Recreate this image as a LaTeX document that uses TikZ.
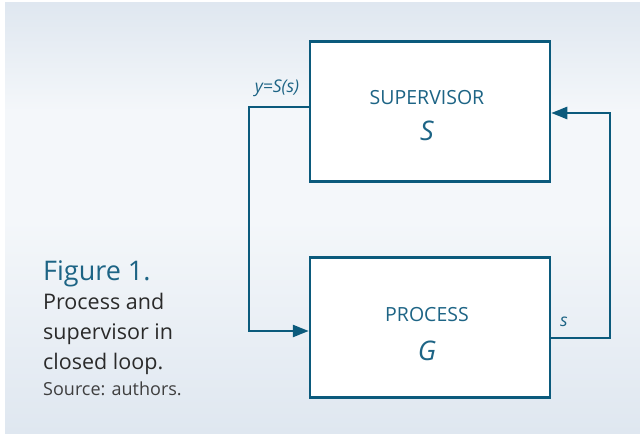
\documentclass[tikz,border=0pt]{standalone}
\usepackage{fontspec}
\setmainfont{Open Sans}
\usetikzlibrary{arrows.meta}
\definecolor{loopteal}{HTML}{0B5A7C}
\definecolor{labelteal}{HTML}{1D6485}
\definecolor{panelA}{HTML}{DFE7F0}
\definecolor{panelB}{HTML}{F4F7FA}
\definecolor{captext}{HTML}{2A2A2A}
\begin{document}
\begin{tikzpicture}[x=1pt,y=-1pt,
  block/.style={draw=loopteal,line width=2.5pt,fill=white,minimum width=240pt,minimum height=140pt,inner sep=0pt},
  wire/.style={draw=loopteal,line width=2.5pt},
  tip/.style={-{Triangle[length=16pt,width=12pt]}},
  boxtitle/.style={text=labelteal,font=\fontsize{19.5}{22}\selectfont},
  boxsym/.style={text=labelteal,font=\fontsize{27}{30}\selectfont\itshape},
  siglabel/.style={text=labelteal,font=\fontsize{17.5}{20}\selectfont\itshape},
  capline/.style={anchor=base west,inner sep=0pt,text=captext,font=\fontsize{21.5}{24}\selectfont}]
\useasboundingbox (0,0) rectangle (640,438);
% background panel with vertical shading
\shade[top color=panelA,bottom color=panelB,middle color=panelB] (5,3) rectangle (640,220);
\shade[top color=panelB,bottom color=panelA] (5,220) rectangle (640,433);
% blocks
\node[block] (sup) at (430,111.5) {};
\node[block] (proc) at (430,327.5) {};
\node[boxtitle] (suptitle) at (427,98) {SUPERVISOR};
\node[boxsym] (supsym) at (427,131) {S};
\node[boxtitle] (proctitle) at (427,315) {PROCESS};
\node[boxsym] (procsym) at (427,351) {G};
% loop connectors
\coordinate (lt) at (249,107);
\coordinate (lb) at (249,331);
\coordinate (rb) at (610,338);
\coordinate (rt) at (610,113);
\draw[wire,tip] (sup.west |- lt) -- (lt) -- (lb) -- (proc.west |- lb);
\draw[wire,tip] (proc.east |- rb) -- (rb) -- (rt) -- (sup.east |- rt);
\node[siglabel] (ylab) at (277,88) {y=S(s)};
\node[siglabel] (slab) at (564,322) {s};
% caption
\node[capline,text=labelteal,font=\fontsize{27}{30}\selectfont] (c1) at (43,281) {Figure 1.};
\node[capline] (c2) at (43,310) {Process and};
\node[capline] (c3) at (43,340) {supervisor in};
\node[capline] (c4) at (43,370) {closed loop.};
\node[capline,font=\fontsize{18}{20}\selectfont,text=captext!90] (c5) at (43,395) {Source: authors.};
\end{tikzpicture}
\end{document}
